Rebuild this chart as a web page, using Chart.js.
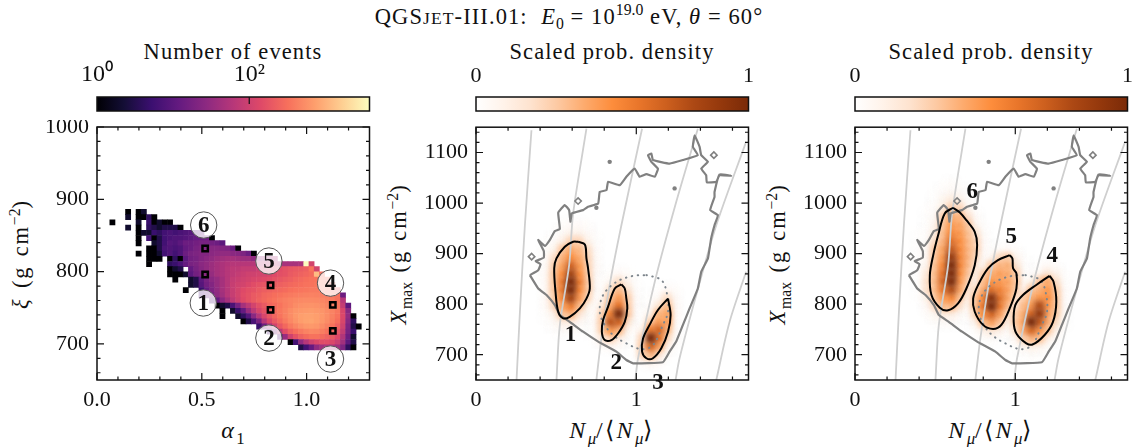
<!DOCTYPE html>
<html>
<head>
<meta charset="utf-8">
<script src="https://cdn.jsdelivr.net/npm/chart.js@4"></script>
<style>
    html, body { margin: 0; padding: 0; background: #fff; overflow: hidden; width: 1137px; height: 447px; }
    body { position: relative; font-family: "Liberation Serif", serif; color: #111; }
    canvas { position: absolute; }
    .txt { position: absolute; white-space: nowrap; font-size: 22.5px; line-height: 24px; letter-spacing: 1.1px; transform: translate(-50%, -50%); }
    .rot { transform: translate(-50%, -50%) rotate(-90deg); letter-spacing: 1.8px; word-spacing: 2px; }
    .math { font-size: 24px; letter-spacing: 2.4px; }
    .txt sub, .txt sup { font-size: 70%; line-height: 0; letter-spacing: 0; }
    .txt small { font-size: 78%; }
</style>
</head>
<body>
<div class="txt" style="left:569px;top:17px">QGS<small>JET</small>-III.01: &nbsp;<i>E</i><sub>0</sub> = 10<sup>19.0</sup> eV, <i>θ</i> = 60°</div>
<div class="txt" style="left:233px;top:52px">Number of events</div>
<div class="txt" style="left:612px;top:52px">Scaled prob. density</div>
<div class="txt" style="left:991px;top:52px">Scaled prob. density</div>
<div class="txt math" style="left:233px;top:430px"><i>α</i><sub>1</sub></div>
<div class="txt math" style="left:612px;top:430px"><i>N<sub>μ</sub></i>/⟨<i>N<sub>μ</sub></i>⟩</div>
<div class="txt math" style="left:991px;top:430px"><i>N<sub>μ</sub></i>/⟨<i>N<sub>μ</sub></i>⟩</div>
<div class="txt rot" style="left:21px;top:254px"><i>ξ</i> (g cm<sup>−2</sup>)</div>
<div class="txt rot" style="left:399px;top:254px"><i>X</i><sub>max</sub> (g cm<sup>−2</sup>)</div>
<div class="txt rot" style="left:778px;top:254px"><i>X</i><sub>max</sub> (g cm<sup>−2</sup>)</div>

<canvas id="bar-a" width="380" height="60" style="left:0;top:60px"></canvas>
<canvas id="bar-b" width="380" height="60" style="left:379px;top:60px"></canvas>
<canvas id="bar-c" width="380" height="60" style="left:758px;top:60px"></canvas>
<canvas id="panel-a" width="380" height="300" style="left:0;top:120px"></canvas>
<canvas id="panel-b" width="380" height="300" style="left:379px;top:120px"></canvas>
<canvas id="panel-c" width="380" height="300" style="left:758px;top:120px"></canvas>

<script>
// histogram bins, left panel
const alphaStart = 0.061;
const alphaStep = 0.025;
const xiStart = 886;
const xiStep = 7.2;
const eventsMax = 3800;

// events per cell, one row per xi bin from the top: [first column, counts]
const heatRows = [
    [3, [1, 0, 1, 2]],
    [3, [2, 0, 1, 1, 4, 1]],
    [0, [1, 0, 0, 0, 0, 2, 0, 5, 1, 2, 1, 1]],
    [3, [2, 0, 1, 0, 4, 3, 2, 3, 3, 3, 1]],
    [5, [1, 2, 2, 5, 4, 6, 7, 6, 7, 8, 9, 10, 12]],
    [5, [1, 0, 6, 1, 3, 6, 7, 8, 8, 9, 10, 12, 13, 14, 1]],
    [5, [1, 0, 0, 2, 3, 6, 9, 8, 10, 14, 14, 16, 18, 18, 16, 14, 10]],
    [7, [1, 1, 3, 7, 8, 7, 8, 12, 14, 18, 20, 22, 24, 24, 22, 20, 14, 1]],
    [5, [1, 0, 1, 1, 2, 6, 8, 6, 8, 14, 18, 20, 22, 22, 26, 28, 30, 30, 26, 24, 20, 14, 1]],
    [7, [1, 1, 1, 0, 1, 4, 1, 10, 16, 18, 22, 26, 30, 36, 40, 44, 44, 40, 36, 36, 30, 30, 40, 40, 50]],
    [7, [1, 0, 0, 0, 4, 5, 7, 12, 18, 20, 26, 30, 36, 44, 50, 56, 60, 60, 60, 60, 60, 60, 64, 70, 70, 50, 45, 45, 45, 50, 3800, 110]],
    [11, [1, 2, 3, 0, 12, 18, 24, 30, 36, 44, 50, 60, 70, 70, 80, 80, 80, 90, 100, 110, 120, 150, 170, 190, 200, 210, 230, 340, 110]],
    [11, [1, 1, 1, 2, 10, 16, 20, 26, 32, 44, 50, 60, 70, 80, 90, 100, 100, 110, 110, 120, 140, 160, 170, 200, 220, 240, 260, 290, 1200, 300]],
    [12, [1, 0, 0, 2, 3, 10, 18, 26, 32, 44, 60, 80, 90, 100, 110, 120, 130, 140, 150, 170, 190, 210, 230, 260, 280, 310, 330, 340, 360, 320]],
    [15, [2, 3, 9, 16, 22, 32, 44, 60, 85, 100, 110, 130, 150, 170, 180, 190, 210, 230, 250, 270, 290, 310, 330, 340, 360, 360, 340, 290]],
    [14, [1, 0, 0, 5, 12, 20, 30, 44, 60, 85, 110, 140, 160, 170, 200, 220, 240, 260, 270, 290, 320, 340, 350, 360, 380, 380, 360, 340, 320, 260]],
    [17, [7, 10, 17, 28, 40, 60, 85, 110, 150, 170, 200, 220, 260, 280, 310, 330, 360, 380, 400, 420, 430, 440, 430, 400, 380, 360, 320, 14]],
    [19, [7, 12, 26, 44, 70, 100, 140, 170, 200, 240, 270, 310, 340, 380, 420, 450, 480, 500, 510, 510, 500, 470, 430, 390, 320, 60]],
    [20, [1, 2, 3, 7, 18, 44, 70, 110, 160, 200, 260, 290, 340, 400, 450, 520, 560, 580, 590, 570, 520, 470, 410, 340, 80, 10]],
    [21, [1, 0, 2, 5, 12, 34, 70, 120, 170, 240, 290, 360, 430, 520, 600, 640, 660, 680, 650, 600, 520, 450, 360, 120, 25]],
    [21, [1, 0, 0, 2, 4, 9, 26, 60, 120, 190, 260, 340, 430, 520, 640, 720, 760, 760, 720, 640, 540, 430, 340, 130, 30, 1]],
    [25, [1, 3, 7, 18, 60, 130, 200, 280, 380, 490, 600, 700, 770, 790, 720, 620, 520, 410, 310, 120, 25, 4]],
    [28, [5, 14, 44, 110, 190, 270, 380, 470, 560, 640, 660, 620, 520, 430, 340, 240, 100, 20, 3, 1]],
    [30, [7, 22, 70, 150, 240, 310, 380, 450, 490, 470, 410, 340, 270, 190, 80, 18, 5]],
    [32, [9, 34, 100, 170, 240, 290, 330, 330, 290, 250, 200, 140, 55, 14, 2]],
    [34, [1, 6, 30, 60, 100, 130, 150, 150, 130, 90, 40, 10, 3]],
    [36, [3, 6, 12, 30, 40, 50, 50, 40, 20, 4, 1]]
];

// the six selected cells and their numbered rings
const pickedAlpha = [0.516, 0.516, 0.828, 0.828, 1.125, 1.125];
const pickedXi = [796, 832, 747, 781, 718, 754];
const ringNames = ['1', '2', '3', '4', '5', '6'];
const ringAlpha = [0.507, 0.82, 1.114, 1.114, 0.82, 0.509];
const ringXi = [756.5, 708, 679, 784, 814.6, 864.4];

// outer contour of the events, shared by both density panels
const outlineN = [0.336, 0.388, 0.403, 0.372, 0.423, 0.423, 0.388, 0.43, 0.461, 0.492, 0.523, 0.513, 0.554, 0.581, 0.589, 0.598, 0.668, 0.699, 0.762, 0.772, 0.814, 0.824, 0.897, 0.938, 0.99, 1.021, 1.063, 1.115, 1.135, 1.094, 1.073, 1.094, 1.104, 1.208, 1.291, 1.384, 1.353, 1.364, 1.395, 1.405, 1.447, 1.405, 1.436, 1.44, 1.499, 1.519, 1.592, 1.519, 1.488, 1.488, 1.461, 1.509, 1.488, 1.467, 1.447, 1.405, 1.384, 1.333, 1.291, 1.249, 1.208, 1.166, 0.98, 0.938, 0.876, 0.762, 0.668, 0.585, 0.523, 0.492, 0.44, 0.388, 0.336];
const outlineX = [857.5, 867, 879, 885, 892, 905, 927, 915, 927, 944.5, 948.5, 981, 996, 986, 963, 979.5, 986, 992.6, 999, 1022, 1025.5, 1042, 1035.4, 1052, 1068, 1052, 1057, 1052, 1068, 1081.5, 1094.7, 1098, 1085, 1078, 1085, 1094.7, 1111, 1134, 1111, 1094.7, 1081.5, 1068, 1055, 1041, 1042, 1055, 1054, 1056.5, 1022, 1012, 986, 976, 956, 930, 890.5, 864, 831, 792, 759, 726, 706, 685, 683, 689.6, 706, 726, 745.5, 765, 778.5, 798, 818, 831, 857.5];
const islandN = [0.834, 0.751, 1.239];
const islandX = [1081.5, 990.6, 1029];
const loopN = [0.637, 1.484, 0.347];
const loopX = [1004, 1094.7, 894];

// dotted reference contour
const dottedN = [1.063, 1.156, 1.191, 1.198, 1.166, 1.104, 1.032, 0.938, 0.855, 0.803, 0.772, 0.793, 0.876, 0.98, 1.063];
const dottedX = [857.5, 847.7, 821, 785, 759, 719, 711, 722.5, 739, 759, 785, 818, 844, 856, 857.5];

// light grey lines
const greyLines = [
    [[0.346, 0.305, 0.274, 0.253], [1144, 956, 785, 650]],
    [[0.689, 0.606, 0.581, 0.523, 0.502], [1147, 979.5, 877, 759, 650]],
    [[1.036, 0.907, 0.834, 0.782, 0.751], [1147, 956, 838, 732, 650]],
    [[1.384, 1.249, 1.115, 1.011, 0.994], [1147, 1002, 844, 693, 650]],
    [[1.685, 1.499, 1.374, 1.27, 1.245], [1121, 956, 818, 693, 650]],
    [[1.685, 1.582, 1.499], [864, 765, 650]]
];

// 1-sigma style contours around each density
const contour1N = [0.637, 0.679, 0.689, 0.699, 0.71, 0.689, 0.648, 0.585, 0.544, 0.513, 0.496, 0.488, 0.502, 0.554, 0.606];
const contour1X = [923.4, 918, 890.5, 871, 831, 811, 791.7, 775, 772, 785, 824.6, 871, 890.5, 913.5, 923.4];
const contour2N = [0.907, 0.928, 0.938, 0.944, 0.928, 0.886, 0.845, 0.803, 0.785, 0.793, 0.824, 0.866];
const contour2X = [839, 831, 811, 791.7, 765, 742, 729, 729, 745.5, 768.6, 795, 831];
const contour3N = [1.198, 1.214, 1.198, 1.156, 1.104, 1.063, 1.036, 1.042, 1.083, 1.135];
const contour3X = [811, 778.5, 745.5, 712.6, 693, 693, 706, 732, 759, 788.4];
const contour4N = [1.214, 1.239, 1.256, 1.235, 1.183, 1.11, 1.069, 1.007, 0.99, 1, 1.048, 1.131];
const contour4X = [856, 844, 805, 765, 739, 720.5, 722.5, 742, 765, 798, 818, 838];
const contour5N = [0.965, 0.982, 0.986, 1.007, 1.007, 0.965, 0.913, 0.861, 0.799, 0.747, 0.737, 0.768, 0.83, 0.892];
const contour5X = [897, 890.5, 871, 861, 831, 791.7, 759, 751, 759, 785, 811, 838, 871, 887];
const contour6N = [0.612, 0.654, 0.695, 0.747, 0.762, 0.747, 0.695, 0.643, 0.581, 0.529, 0.477, 0.467, 0.488, 0.519, 0.56];
const contour6X = [990.6, 981.4, 966, 943, 917, 877, 831, 801.5, 788, 793, 818, 857.5, 897, 936.6, 979.5];

// density read on a coarse mesh: 0.05 in N, 16 g/cm2 in Xmax
const meshStepN = 0.05;
const meshStepX = 16;
const density1 = [
    [0, 0, .02, .03, .03, .02, 0],
    [0, .01, .04, .08, .08, .04, .01],
    [.01, .03, .1, .25, .25, .1, .02],
    [.02, .07, .3, .4, .35, .22, .03],
    [.03, .2, .36, .5, .4, .26, .04],
    [.04, .27, .42, .68, .46, .27, .05],
    [.05, .3, .5, .82, .5, .28, .05],
    [.05, .3, .58, 1, .58, .3, .05],
    [.05, .3, .58, 1, .52, .3, .05],
    [.05, .28, .52, .82, .44, .25, .04],
    [.04, .22, .42, .55, .32, .1, .02],
    [.02, .1, .3, .35, .15, .04, .01],
    [.01, .04, .1, .1, .04, .01, 0],
    [0, .01, .02, .02, .01, 0, 0]
];
const density2 = [
    [0, 0, .02, .03, .02, 0],
    [0, .01, .05, .2, .08, .01],
    [0, .02, .2, .33, .18, .02],
    [.01, .05, .3, .44, .28, .03],
    [.01, .12, .38, .6, .3, .03],
    [.02, .25, .52, 1, .32, .03],
    [.03, .3, .75, .66, .2, .02],
    [.02, .28, .46, .35, .08, .01],
    [.01, .15, .25, .1, .02, 0],
    [0, .02, .04, .02, 0, 0]
];
const density3 = [
    [0, 0, 0, .01, .03, .02],
    [0, 0, .01, .03, .2, .04],
    [0, 0, .02, .15, .33, .05],
    [0, .01, .08, .35, .42, .05],
    [0, .02, .25, .44, .44, .04],
    [.01, .08, .55, .66, .35, .03],
    [.01, .25, 1, .6, .22, .02],
    [.01, .3, .66, .4, .08, .01],
    [.01, .25, .35, .15, .02, 0],
    [0, .03, .06, .03, 0, 0]
];
const density4 = [
    [0, 0, 0, 0, .01, .03, .02, 0],
    [0, 0, 0, .01, .04, .15, .08, .01],
    [0, 0, .01, .06, .28, .4, .2, .02],
    [0, .01, .05, .3, .36, .46, .28, .03],
    [0, .03, .26, .38, .46, .5, .3, .03],
    [.01, .1, .33, .45, .78, .46, .3, .03],
    [.01, .26, .38, .66, .9, .42, .28, .02],
    [.01, .28, .42, 1, .7, .38, .2, .02],
    [.01, .2, .4, .66, .45, .3, .08, .01],
    [0, .04, .26, .36, .32, .1, .02, 0],
    [0, .01, .05, .1, .06, .02, 0, 0],
    [0, 0, .01, .02, .01, 0, 0, 0]
];
const density5 = [
    [0, 0, 0, .01, .02, .03, .02, 0],
    [0, 0, .01, .05, .22, .28, .08, .01],
    [0, .01, .05, .28, .36, .38, .18, .02],
    [0, .02, .25, .38, .44, .4, .27, .03],
    [.01, .05, .32, .48, .46, .42, .3, .03],
    [.01, .22, .38, .62, .55, .42, .26, .03],
    [.02, .3, .5, .95, .62, .4, .14, .02],
    [.02, .3, .58, 1, .58, .32, .05, .01],
    [.01, .22, .5, .66, .42, .16, .02, 0],
    [0, .06, .32, .42, .28, .05, .01, 0],
    [0, .01, .08, .14, .08, .01, 0, 0],
    [0, 0, .01, .02, .01, 0, 0, 0]
];
const density6 = [
    [0, 0, 0, .01, .02, .01, 0, 0, 0],
    [0, 0, .01, .03, .05, .04, .01, 0, 0],
    [0, 0, .01, .07, .14, .1, .02, 0, 0],
    [0, .01, .03, .12, .28, .25, .06, .01, 0],
    [0, .01, .05, .26, .4, .36, .2, .03, 0],
    [0, .01, .08, .3, .46, .42, .3, .06, .01],
    [.01, .02, .12, .33, .52, .46, .33, .18, .02],
    [.01, .03, .2, .36, .62, .5, .35, .25, .03],
    [.01, .04, .28, .42, .72, .52, .36, .26, .03],
    [.01, .05, .3, .46, .88, .54, .36, .22, .03],
    [.01, .08, .32, .52, 1, .54, .34, .15, .02],
    [.01, .15, .34, .6, 1, .5, .3, .06, .01],
    [.01, .2, .35, .66, 1, .46, .24, .03, .01],
    [.01, .2, .34, .6, .78, .4, .15, .02, 0],
    [.01, .1, .3, .46, .52, .3, .05, .01, 0],
    [0, .04, .22, .34, .35, .18, .02, 0, 0],
    [0, .02, .06, .12, .1, .04, .01, 0, 0],
    [0, 0, .02, .03, .03, .01, 0, 0, 0]
];

// first mesh node of each density: N, Xmax
const meshOrigins = {
    d1: [0.44, 956], d2: [0.74, 861], d3: [0.99, 829],
    d4: [0.95, 877], d5: [0.70, 908], d6: [0.40, 1037]
};

// numbers next to the densities
const notesB = { names: ['1', '2', '3'], n: [0.59, 0.875, 1.135], x: [740, 685, 645] };
const notesC = { names: ['6', '5', '4'], n: [0.731, 0.975, 1.23], x: [1024, 935, 898] };

const magmaStops = ['#000004', '#140e36', '#3b0f70', '#641a80', '#8c2981', '#b73779', '#de4968', '#f7705c', '#fe9f6d', '#fecf92', '#fcfdbf'];
const orangeStops = ['#ffffff', '#fff3ea', '#fee3cf', '#fdc9a2', '#fdaa6c', '#fd8d3c', '#e8752a', '#cc5f1e', '#ac4814', '#94380c', '#7a2a08'];

function hexToRgb(hex) {
    return [1, 3, 5].map(i => parseInt(hex.substr(i, 2), 16));
}

function pickColor(stops, f) {
    const pos = Math.min(Math.max(f, 0), 1) * (stops.length - 1);
    const i = Math.min(Math.floor(pos), stops.length - 2);
    const a = hexToRgb(stops[i]);
    const b = hexToRgb(stops[i + 1]);
    const t = pos - i;
    return 'rgb(' + a.map((v, k) => Math.round(v + (b[k] - v) * t)).join(',') + ')';
}

function pairs(xs, ys) {
    return xs.map((x, i) => ({ x: x, y: ys[i] }));
}

function closed(xs, ys) {
    return pairs(xs, ys).concat({ x: xs[0], y: ys[0] });
}

// ticks inside the frame, on all sides, and the frame itself
const frameTicks = {
    id: 'frameTicks',
    afterDatasetsDraw(chart, args, opts) {
        const ctx = chart.ctx;
        const area = chart.chartArea;
        const sx = chart.scales.x;
        const sy = chart.scales.y;
        ctx.save();
        ctx.strokeStyle = '#111';
        ctx.lineWidth = 1.2;
        ctx.beginPath();
        const tickX = (v, len) => {
            const p = sx.getPixelForValue(v);
            ctx.moveTo(p, area.top);
            ctx.lineTo(p, area.top + len);
            if (!opts.topOnly) {
                ctx.moveTo(p, area.bottom);
                ctx.lineTo(p, area.bottom - len);
            }
        };
        const tickY = (v, len) => {
            const p = sy.getPixelForValue(v);
            ctx.moveTo(area.left, p);
            ctx.lineTo(area.left + len, p);
            ctx.moveTo(area.right, p);
            ctx.lineTo(area.right - len, p);
        };
        (opts.xMajor || []).forEach(v => tickX(v, 7));
        (opts.xMinor || []).forEach(v => tickX(v, 3.5));
        (opts.yMajor || []).forEach(v => tickY(v, 7));
        (opts.yMinor || []).forEach(v => tickY(v, 3.5));
        ctx.stroke();
        ctx.lineWidth = 1.5;
        ctx.strokeRect(area.left, area.top, area.right - area.left, area.bottom - area.top);
        ctx.restore();
    }
};

// bold numbers, with a ring on the left panel
const numberNotes = {
    id: 'numberNotes',
    afterDraw(chart, args, opts) {
        if (!opts.names) return;
        const ctx = chart.ctx;
        ctx.save();
        ctx.textAlign = 'center';
        ctx.textBaseline = 'middle';
        opts.names.forEach((name, i) => {
            const px = chart.scales.x.getPixelForValue(opts.n[i]);
            const py = chart.scales.y.getPixelForValue(opts.x[i]);
            if (opts.ring) {
                ctx.beginPath();
                ctx.arc(px, py, 13.2, 0, Math.PI * 2);
                ctx.fillStyle = 'rgba(255,255,255,0.78)';
                ctx.fill();
                ctx.strokeStyle = '#555';
                ctx.lineWidth = 1;
                ctx.stroke();
            }
            ctx.font = 'bold 23px "Liberation Serif"';
            ctx.fillStyle = '#111';
            ctx.fillText(name, px, py + 1);
        });
        ctx.restore();
    }
};

// smooths the coarse density mesh
const softMesh = {
    id: 'softMesh',
    beforeDatasetDraw(chart, args) {
        if (!chart.data.datasets[args.index].soft) return;
        chart.ctx.save();
        chart.ctx.filter = 'blur(2.5px)';
        chart.ctx.globalCompositeOperation = 'darken';
    },
    afterDatasetDraw(chart, args) {
        if (!chart.data.datasets[args.index].soft) return;
        chart.ctx.restore();
    }
};

Chart.register(frameTicks, numberNotes, softMesh);
Chart.defaults.font.family = '"Liberation Serif", serif';
Chart.defaults.font.size = 22;
Chart.defaults.color = '#111';

function fixedScale(size, key) {
    return function (scale) {
        scale[key] = size;
        scale.paddingLeft = 0;
        scale.paddingRight = 0;
        scale.paddingTop = 0;
        scale.paddingBottom = 0;
    };
}

function axisBase() {
    return {
        grid: { drawOnChartArea: false, drawTicks: false },
        border: { display: false }
    };
}

function makePanel(id, datasets, xOpts, yOpts, tickOpts, noteOpts) {
    return new Chart(document.getElementById(id), {
        type: 'scatter',
        data: { datasets: datasets },
        options: {
            responsive: false,
            animation: false,
            events: [],
            layout: { padding: { top: 7, right: 10.5, left: 0, bottom: 0 } },
            plugins: {
                legend: { display: false },
                tooltip: { enabled: false },
                frameTicks: tickOpts,
                numberNotes: noteOpts || {}
            },
            scales: {
                x: Object.assign(axisBase(), xOpts, { afterFit: fixedScale(40, 'height') }),
                y: Object.assign(axisBase(), yOpts, { afterFit: fixedScale(97, 'width') })
            }
        }
    });
}

function listTicks(values) {
    return function (scale) {
        scale.ticks = values.map(v => ({ value: v }));
    };
}

function meshPoints(key, rows) {
    const pts = [];
    rows.forEach((row, j) => {
        row.forEach((d, k) => {
            if (d > 0) {
                pts.push({ x: meshOrigins[key][0] + k * meshStepN, y: meshOrigins[key][1] - j * meshStepX, d: d });
            }
        });
    });
    return pts;
}

function lineSet(data, color, width, tension, dash) {
    return {
        type: 'line',
        data: data,
        borderColor: color,
        borderWidth: width,
        borderDash: dash || [],
        borderCapStyle: dash ? 'round' : 'butt',
        pointRadius: 0,
        tension: tension,
        fill: false
    };
}

// first dataset is painted last
function densityDatasets(contours, meshKeys) {
    const sets = [];
    contours.forEach(c => sets.push(lineSet(closed(c[0], c[1]), '#000', 2, 0.35)));
    sets.push(lineSet(closed(dottedN, dottedX), '#7d858c', 2, 0.35, [0.5, 5.5]));
    sets.push(lineSet(closed(outlineN, outlineX), '#808080', 2.2, 0.1));
    sets.push({
        data: pairs(islandN, islandX),
        pointStyle: 'circle',
        pointRadius: 2.2,
        borderWidth: 0,
        backgroundColor: '#808080'
    });
    sets.push({
        data: pairs(loopN, loopX),
        pointStyle: 'rectRot',
        pointRadius: 3.2,
        borderWidth: 1.6,
        borderColor: '#808080',
        backgroundColor: 'rgba(255,255,255,0)'
    });
    greyLines.forEach(g => sets.push(lineSet(pairs(g[0], g[1]), '#cfcfcf', 1.8, 0.3)));
    meshKeys.forEach(m => {
        const pts = meshPoints(m[0], m[1]);
        sets.push({
            data: pts,
            soft: true,
            pointStyle: 'rect',
            pointRadius: 7.2,
            borderWidth: 0,
            backgroundColor: pts.map(p => pickColor(orangeStops, p.d))
        });
    });
    return sets;
}

const heatCells = [];
heatRows.forEach((row, r) => {
    row[1].forEach((n, i) => {
        if (n > 0) {
            heatCells.push({
                x: alphaStart + (row[0] + i + 0.5) * alphaStep,
                y: xiStart - (r + 0.5) * xiStep,
                n: n
            });
        }
    });
});

const densityXAxis = {
    type: 'linear', min: 0, max: 1.7,
    afterBuildTicks: listTicks([0, 1]),
    ticks: { padding: 7, maxRotation: 0, callback: v => String(v) }
};
const densityYAxis = {
    type: 'linear', min: 650, max: 1150,
    afterBuildTicks: listTicks([700, 800, 900, 1000, 1100]),
    ticks: { padding: 8, callback: v => String(v) }
};
const densityTicks = {
    xMajor: [0, 1],
    xMinor: [0.2, 0.4, 0.6, 0.8, 1.2, 1.4, 1.6],
    yMajor: [700, 800, 900, 1000, 1100],
    yMinor: [660, 680, 720, 740, 760, 780, 820, 840, 860, 880, 920, 940, 960, 980, 1020, 1040, 1060, 1080, 1120, 1140]
};

makePanel('panel-a', [
    {
        data: pairs(pickedAlpha, pickedXi),
        pointStyle: 'rect',
        pointRadius: 3.8,
        borderWidth: 2.5,
        borderColor: '#000',
        backgroundColor: 'rgba(0,0,0,0)'
    },
    {
        data: heatCells,
        pointStyle: 'rect',
        pointRadius: 4.1,
        borderWidth: 0,
        backgroundColor: heatCells.map(c => pickColor(magmaStops, Math.log10(c.n) / Math.log10(eventsMax)))
    }
], {
    type: 'linear', min: 0, max: 1.3,
    afterBuildTicks: listTicks([0, 0.5, 1]),
    ticks: { padding: 7, maxRotation: 0, callback: v => v.toFixed(1) }
}, {
    type: 'linear', min: 650, max: 1000,
    afterBuildTicks: listTicks([700, 800, 900, 1000]),
    ticks: { padding: 8, callback: v => String(v) }
}, {
    xMajor: [0, 0.5, 1],
    xMinor: [0.1, 0.2, 0.3, 0.4, 0.6, 0.7, 0.8, 0.9, 1.1, 1.2],
    yMajor: [700, 800, 900, 1000],
    yMinor: [660, 680, 720, 740, 760, 780, 820, 840, 860, 880, 920, 940, 960, 980]
}, { names: ringNames, n: ringAlpha, x: ringXi, ring: true });

makePanel('panel-b', densityDatasets(
    [[contour1N, contour1X], [contour2N, contour2X], [contour3N, contour3X]],
    [['d1', density1], ['d2', density2], ['d3', density3]]
), densityXAxis, densityYAxis, densityTicks, notesB);

makePanel('panel-c', densityDatasets(
    [[contour4N, contour4X], [contour5N, contour5X], [contour6N, contour6X]],
    [['d4', density4], ['d5', density5], ['d6', density6]]
), densityXAxis, densityYAxis, densityTicks, notesC);

// colour bars
function makeBar(id, stops, xOpts, ends, tickOpts) {
    return new Chart(document.getElementById(id), {
        type: 'bar',
        data: {
            labels: [''],
            datasets: [{
                data: [ends],
                barPercentage: 1,
                categoryPercentage: 1,
                backgroundColor(ctx) {
                    const area = ctx.chart.chartArea;
                    if (!area) return stops[0];
                    const g = ctx.chart.ctx.createLinearGradient(area.left, 0, area.right, 0);
                    stops.forEach((c, i) => g.addColorStop(i / (stops.length - 1), c));
                    return g;
                }
            }]
        },
        options: {
            indexAxis: 'y',
            responsive: false,
            animation: false,
            events: [],
            layout: { padding: { top: 0, right: 10.5, left: 97, bottom: 9 } },
            plugins: {
                legend: { display: false },
                tooltip: { enabled: false },
                frameTicks: Object.assign({ topOnly: true }, tickOpts)
            },
            scales: {
                x: Object.assign(axisBase(), xOpts, { position: 'top', afterFit: fixedScale(37, 'height') }),
                y: { display: false }
            }
        }
    });
}

makeBar('bar-a', magmaStops, {
    type: 'logarithmic', min: 1, max: eventsMax,
    afterBuildTicks: listTicks([1, 100]),
    ticks: { padding: 8, maxRotation: 0, font: { size: 24 }, callback: v => (v === 1 ? '10⁰' : '10²') }
}, [1, eventsMax], { xMajor: [100] });

const densityBarAxis = {
    type: 'linear', min: 0, max: 1,
    afterBuildTicks: listTicks([0, 1]),
    ticks: { padding: 8, maxRotation: 0, callback: v => String(v) }
};
makeBar('bar-b', orangeStops, densityBarAxis, [0, 1], {});
makeBar('bar-c', orangeStops, densityBarAxis, [0, 1], {});
</script>
</body>
</html>
